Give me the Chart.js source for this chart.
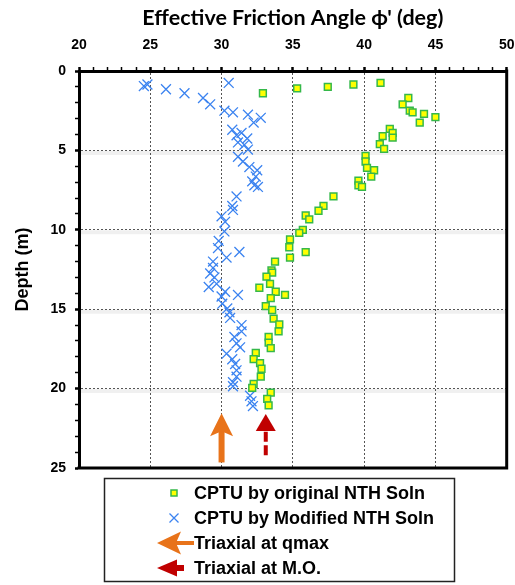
<!DOCTYPE html>
<html>
<head>
<meta charset="utf-8">
<script src="https://cdn.jsdelivr.net/npm/chart.js@4/dist/chart.umd.min.js"></script>
<style>
  body { margin: 0; background: #fff; }
  canvas { display: block; }
</style>
</head>
<body>
<canvas id="profile" width="515" height="585"></canvas>
<script>
// effective friction angle (deg) vs depth (m), CPTU with the original NTH solution
const origPhi = [32.9, 35.3, 37.45, 39.25, 41.15, 43.1, 42.7, 43.2, 43.4, 44.2,
  45.0, 43.9, 41.8, 42.0, 42.0, 41.3, 41.1, 41.4, 40.1, 40.1,
  40.2, 40.7, 40.5, 39.6, 39.6, 39.85, 37.85, 37.15, 36.8, 35.9,
  36.15, 35.7, 35.45, 34.8, 34.75, 35.9, 34.8, 33.75, 33.5, 33.55,
  33.15, 33.4, 32.65, 33.8, 34.45, 33.45, 33.1, 33.55, 33.65, 34.05,
  34.0, 33.3, 33.3, 33.45, 32.4, 32.25, 32.7, 32.8, 32.75, 32.25,
  32.15, 33.45, 33.2, 33.3];
const origDepth = [1.4, 1.1, 1.0, 0.85, 0.75, 1.7, 2.1, 2.5, 2.6, 2.7,
  2.9, 3.25, 3.65, 3.9, 4.2, 4.1, 4.6, 4.9, 5.35, 5.7,
  6.1, 6.25, 6.65, 6.9, 7.2, 7.3, 7.9, 8.5, 8.8, 9.1,
  9.35, 10.0, 10.2, 10.6, 11.1, 11.4, 11.75, 12.0, 12.55, 12.7,
  12.95, 13.4, 13.65, 13.9, 14.1, 14.3, 14.8, 15.05, 15.6, 15.95,
  16.4, 16.75, 17.1, 17.45, 17.75, 18.15, 18.4, 18.75, 19.25, 19.7,
  19.95, 20.25, 20.65, 21.05];

// same sounding, modified NTH solution
const modPhi = [24.55, 24.8, 26.1, 27.4, 28.7, 29.2, 30.5, 30.2, 30.8, 31.85,
  32.75, 32.25, 30.75, 31.05, 31.4, 31.8, 31.15, 31.6, 31.85, 31.15,
  31.5, 31.95, 32.5, 32.4, 32.15, 32.3, 32.55, 31.05, 30.75, 30.8,
  30.0, 30.25, 30.2, 29.8, 29.75, 31.25, 30.35, 29.4, 29.4, 29.2,
  29.5, 29.65, 29.1, 30.25, 31.15, 30.0, 30.05, 30.4, 30.55, 30.6,
  31.4, 31.4, 30.9, 31.05, 31.3, 30.35, 30.75, 30.95, 31.05, 31.05,
  30.8, 30.8, 32.0, 32.1, 32.2];
const modDepth = [0.95, 0.85, 1.15, 1.4, 1.7, 2.1, 0.75, 2.5, 2.6, 2.75,
  2.95, 3.25, 3.7, 4.05, 3.9, 4.25, 4.5, 4.65, 4.95, 5.4,
  5.7, 6.05, 6.25, 6.65, 6.95, 7.2, 7.3, 7.9, 8.5, 8.75,
  9.15, 9.5, 10.1, 10.7, 11.15, 11.4, 11.75, 12.0, 12.4, 12.75,
  13.0, 13.4, 13.6, 13.9, 14.1, 14.2, 14.65, 14.95, 15.2, 15.55,
  16.0, 16.4, 16.75, 17.15, 17.4, 17.8, 18.15, 18.45, 18.85, 19.25,
  19.6, 19.85, 20.45, 20.8, 21.1];

// triaxial results, shown as upward arrows at the measured angle
const triaxialPhi = [30, 33.1];
const triaxialTip = [21.55, 21.6];
const triaxialTail = [24.65, 24.2];

const seriesLabels = ["CPTU by original NTH Soln", "CPTU by Modified NTH Soln"];
const triaxialLabels = ["Triaxial at qmax", "Triaxial at M.O."];
const xTickLabels = [20, 25, 30, 35, 40, 45, 50];
const yTickLabels = [0, 5, 10, 15, 20, 25];

const GREEN = "#35b84a";
const YELLOW = "#ffff00";
const BLUE = "#3b83f0";
const arrowStyles = [
  { color: "#e8731a", shaft: 6, head: 23, half: 11.5, notch: 5, dash: null },
  { color: "#c00000", shaft: 4, head: 17, half: 10, notch: 0, dash: [10, 3.5] }
];

function toPoints(xs, ys) {
  return xs.map((v, i) => ({ x: v, y: ys[i] }));
}

// arrow from (x0,y0) to tip (x1,y1)
function drawArrow(ctx, x0, y0, x1, y1, st) {
  const len = Math.hypot(x1 - x0, y1 - y0);
  const ux = (x1 - x0) / len, uy = (y1 - y0) / len;
  const nx = -uy, ny = ux;
  const bx = x1 - ux * st.head, by = y1 - uy * st.head;
  ctx.save();
  ctx.strokeStyle = st.color;
  ctx.fillStyle = st.color;
  ctx.lineWidth = st.shaft;
  ctx.setLineDash(st.dash || []);
  ctx.beginPath();
  ctx.moveTo(x0, y0);
  ctx.lineTo(bx + ux * (st.notch + 1), by + uy * (st.notch + 1));
  ctx.stroke();
  ctx.setLineDash([]);
  ctx.beginPath();
  ctx.moveTo(x1, y1);
  ctx.lineTo(bx + nx * st.half, by + ny * st.half);
  ctx.lineTo(bx + ux * st.notch, by + uy * st.notch);
  ctx.lineTo(bx - nx * st.half, by - ny * st.half);
  ctx.closePath();
  ctx.fill();
  ctx.restore();
}

const overlay = {
  id: "overlay",
  beforeDatasetsDraw(chart) {
    // soft shading under the horizontal grid lines
    const { ctx, chartArea: a, scales } = chart;
    ctx.save();
    ctx.strokeStyle = "rgba(0,0,0,0.06)";
    ctx.lineWidth = 4;
    [5, 10, 15, 20].forEach((d) => {
      const py = scales.y.getPixelForValue(d) + 2.5;
      ctx.beginPath();
      ctx.moveTo(a.left, py);
      ctx.lineTo(a.right, py);
      ctx.stroke();
    });
    ctx.restore();
  },
  afterDatasetsDraw(chart) {
    const { ctx, chartArea: a, scales } = chart;
    // right and bottom sides of the frame
    ctx.save();
    ctx.strokeStyle = "#000";
    ctx.lineWidth = 3;
    ctx.beginPath();
    ctx.moveTo(a.right, a.top - 1.5);
    ctx.lineTo(a.right, a.bottom);
    ctx.lineTo(a.left - 1.5, a.bottom);
    ctx.stroke();
    ctx.restore();

    triaxialPhi.forEach((phi, i) => {
      const px = scales.x.getPixelForValue(phi);
      drawArrow(ctx, px, scales.y.getPixelForValue(triaxialTail[i]),
        px, scales.y.getPixelForValue(triaxialTip[i]), arrowStyles[i]);
    });
  },
  afterDraw(chart) {
    const ctx = chart.ctx;
    const rows = [493, 518, 543, 568];
    const mx = 174, tx = 194;
    ctx.save();
    ctx.strokeStyle = "#222";
    ctx.lineWidth = 1.5;
    ctx.strokeRect(104.5, 478.5, 350, 103);

    // square marker
    ctx.fillStyle = YELLOW;
    ctx.strokeStyle = GREEN;
    ctx.lineWidth = 1.5;
    ctx.fillRect(mx - 3, rows[0] - 3, 6, 6);
    ctx.strokeRect(mx - 3, rows[0] - 3, 6, 6);
    // cross marker
    ctx.strokeStyle = BLUE;
    ctx.lineWidth = 1.3;
    ctx.beginPath();
    ctx.moveTo(mx - 4.5, rows[1] - 4.5); ctx.lineTo(mx + 4.5, rows[1] + 4.5);
    ctx.moveTo(mx + 4.5, rows[1] - 4.5); ctx.lineTo(mx - 4.5, rows[1] + 4.5);
    ctx.stroke();
    // arrows pointing left
    drawArrow(ctx, 194, rows[2], 157, rows[2],
      { color: arrowStyles[0].color, shaft: 4, head: 24, half: 11.5, notch: 5, dash: null });
    drawArrow(ctx, 184, rows[3], 157, rows[3],
      { color: arrowStyles[1].color, shaft: 6, head: 20, half: 8.5, notch: 0, dash: null });

    ctx.fillStyle = "#000";
    ctx.font = "bold 18px 'Liberation Sans', Arial, sans-serif";
    ctx.textAlign = "left";
    ctx.textBaseline = "middle";
    seriesLabels.concat(triaxialLabels).forEach((t, i) => ctx.fillText(t, tx, rows[i] + 1));
    ctx.restore();
  }
};

const tickFont = { family: "'Liberation Sans', Arial, sans-serif", size: 14, weight: "bold" };

new Chart(document.getElementById("profile"), {
  type: "scatter",
  data: {
    datasets: [
      {
        label: seriesLabels[0],
        data: toPoints(origPhi, origDepth),
        pointStyle: "rect",
        pointRadius: 4.8,
        pointBackgroundColor: YELLOW,
        pointBorderColor: GREEN,
        pointBorderWidth: 1.5
      },
      {
        label: seriesLabels[1],
        data: toPoints(modPhi, modDepth),
        pointStyle: "crossRot",
        pointRadius: 7,
        pointBorderColor: BLUE,
        pointBorderWidth: 1.3
      }
    ]
  },
  options: {
    responsive: false,
    animation: false,
    events: [],
    layout: { padding: { left: 0, right: 8, top: 0, bottom: 117 } },
    plugins: { legend: { display: false }, tooltip: { enabled: false } },
    scales: {
      x: {
        type: "linear",
        position: "top",
        min: 20,
        max: 50,
        afterFit: (s) => { s.height = 71; s.paddingLeft = 0; s.paddingRight = 0; },
        ticks: {
          stepSize: 1,
          autoSkip: false,
          maxRotation: 0,
          padding: 13,
          color: "#000",
          font: tickFont,
          callback: (v) => (xTickLabels.includes(v) ? v : "")
        },
        grid: {
          color: (c) => (c.tick && c.tick.value % 5 === 0 && c.tick.value > 20 && c.tick.value < 50 ? "#555" : "rgba(0,0,0,0)"),
          lineWidth: 1,
          tickColor: "#000",
          tickLength: 4,
          tickWidth: (c) => (c.tick && c.tick.value % 5 === 0 ? 2.5 : 1.5)
        },
        border: { display: true, color: "#000", width: 3, dash: [2, 2] },
        title: {
          display: true,
          text: "Effective Friction Angle \u03d5' (deg)",
          color: "#000",
          font: { family: "Lato, 'Open Sans', sans-serif", size: 21.5, weight: "bold" },
          padding: { top: 5, bottom: 0 }
        }
      },
      y: {
        type: "linear",
        reverse: true,
        min: 0,
        max: 25,
        afterFit: (s) => { s.width = 79; s.paddingTop = 0; s.paddingBottom = 0; },
        ticks: {
          stepSize: 1,
          autoSkip: false,
          padding: 9,
          color: "#000",
          font: tickFont,
          callback: (v) => (yTickLabels.includes(v) ? v : "")
        },
        grid: {
          color: (c) => (c.tick && c.tick.value % 5 === 0 && c.tick.value > 0 && c.tick.value < 25 ? "#555" : "rgba(0,0,0,0)"),
          lineWidth: 1,
          tickColor: "#000",
          tickLength: 4,
          tickWidth: (c) => (c.tick && c.tick.value % 5 === 0 ? 2.5 : 1.5)
        },
        border: { display: true, color: "#000", width: 3, dash: [2, 2] },
        title: {
          display: true,
          text: "Depth (m)",
          color: "#000",
          font: { family: "'Liberation Sans', Arial, sans-serif", size: 18, weight: "bold" },
          padding: { top: 12, bottom: 0 }
        }
      }
    }
  },
  plugins: [overlay]
});
</script>
</body>
</html>
